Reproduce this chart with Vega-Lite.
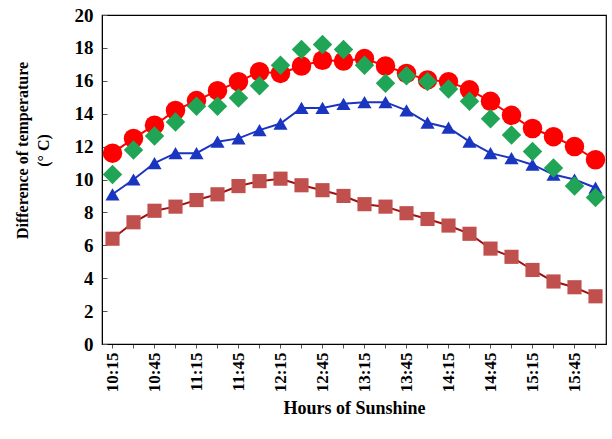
{
  "$schema": "https://vega.github.io/schema/vega-lite/v6.json",
  "width": 504,
  "height": 329,
  "autosize": {"type": "none"},
  "padding": {"left": 102, "top": 15, "right": 6, "bottom": 95},
  "background": "white",
  "config": {
    "font": "Liberation Serif",
    "view": {"stroke": "black", "strokeWidth": 1.2}
  },
  "data": {"values": [
      {"time": "10:15", "season": "Winter", "temp": 6.4},
      {"time": "10:30", "season": "Winter", "temp": 7.4},
      {"time": "10:45", "season": "Winter", "temp": 8.1},
      {"time": "11:00", "season": "Winter", "temp": 8.35},
      {"time": "11:15", "season": "Winter", "temp": 8.75},
      {"time": "11:30", "season": "Winter", "temp": 9.1},
      {"time": "11:45", "season": "Winter", "temp": 9.6},
      {"time": "12:00", "season": "Winter", "temp": 9.9},
      {"time": "12:15", "season": "Winter", "temp": 10.05},
      {"time": "12:30", "season": "Winter", "temp": 9.65},
      {"time": "12:45", "season": "Winter", "temp": 9.35},
      {"time": "13:00", "season": "Winter", "temp": 9.0},
      {"time": "13:15", "season": "Winter", "temp": 8.5},
      {"time": "13:30", "season": "Winter", "temp": 8.35},
      {"time": "13:45", "season": "Winter", "temp": 7.95},
      {"time": "14:00", "season": "Winter", "temp": 7.6},
      {"time": "14:15", "season": "Winter", "temp": 7.2},
      {"time": "14:30", "season": "Winter", "temp": 6.7},
      {"time": "14:45", "season": "Winter", "temp": 5.8},
      {"time": "15:00", "season": "Winter", "temp": 5.3},
      {"time": "15:15", "season": "Winter", "temp": 4.5},
      {"time": "15:30", "season": "Winter", "temp": 3.8},
      {"time": "15:45", "season": "Winter", "temp": 3.45},
      {"time": "16:00", "season": "Winter", "temp": 2.9},
      {"time": "10:15", "season": "Spring", "temp": 9.1},
      {"time": "10:30", "season": "Spring", "temp": 10.0},
      {"time": "10:45", "season": "Spring", "temp": 11.0},
      {"time": "11:00", "season": "Spring", "temp": 11.6},
      {"time": "11:15", "season": "Spring", "temp": 11.6},
      {"time": "11:30", "season": "Spring", "temp": 12.3},
      {"time": "11:45", "season": "Spring", "temp": 12.5},
      {"time": "12:00", "season": "Spring", "temp": 13.0},
      {"time": "12:15", "season": "Spring", "temp": 13.4},
      {"time": "12:30", "season": "Spring", "temp": 14.35},
      {"time": "12:45", "season": "Spring", "temp": 14.35},
      {"time": "13:00", "season": "Spring", "temp": 14.6},
      {"time": "13:15", "season": "Spring", "temp": 14.7},
      {"time": "13:30", "season": "Spring", "temp": 14.7},
      {"time": "13:45", "season": "Spring", "temp": 14.2},
      {"time": "14:00", "season": "Spring", "temp": 13.45},
      {"time": "14:15", "season": "Spring", "temp": 13.15},
      {"time": "14:30", "season": "Spring", "temp": 12.3},
      {"time": "14:45", "season": "Spring", "temp": 11.6},
      {"time": "15:00", "season": "Spring", "temp": 11.3},
      {"time": "15:15", "season": "Spring", "temp": 10.9},
      {"time": "15:30", "season": "Spring", "temp": 10.3},
      {"time": "15:45", "season": "Spring", "temp": 10.0},
      {"time": "16:00", "season": "Spring", "temp": 9.5},
      {"time": "10:15", "season": "Summer", "temp": 11.6},
      {"time": "10:30", "season": "Summer", "temp": 12.5},
      {"time": "10:45", "season": "Summer", "temp": 13.3},
      {"time": "11:00", "season": "Summer", "temp": 14.2},
      {"time": "11:15", "season": "Summer", "temp": 14.8},
      {"time": "11:30", "season": "Summer", "temp": 15.4},
      {"time": "11:45", "season": "Summer", "temp": 15.95},
      {"time": "12:00", "season": "Summer", "temp": 16.55},
      {"time": "12:15", "season": "Summer", "temp": 16.45},
      {"time": "12:30", "season": "Summer", "temp": 16.9},
      {"time": "12:45", "season": "Summer", "temp": 17.25},
      {"time": "13:00", "season": "Summer", "temp": 17.2},
      {"time": "13:15", "season": "Summer", "temp": 17.35},
      {"time": "13:30", "season": "Summer", "temp": 16.9},
      {"time": "13:45", "season": "Summer", "temp": 16.45},
      {"time": "14:00", "season": "Summer", "temp": 16.05},
      {"time": "14:15", "season": "Summer", "temp": 15.95},
      {"time": "14:30", "season": "Summer", "temp": 15.45},
      {"time": "14:45", "season": "Summer", "temp": 14.75},
      {"time": "15:00", "season": "Summer", "temp": 13.9},
      {"time": "15:15", "season": "Summer", "temp": 13.1},
      {"time": "15:30", "season": "Summer", "temp": 12.6},
      {"time": "15:45", "season": "Summer", "temp": 12.0},
      {"time": "16:00", "season": "Summer", "temp": 11.2},
      {"time": "10:15", "season": "Autumn", "temp": 10.3},
      {"time": "10:30", "season": "Autumn", "temp": 11.8},
      {"time": "10:45", "season": "Autumn", "temp": 12.65},
      {"time": "11:00", "season": "Autumn", "temp": 13.5},
      {"time": "11:15", "season": "Autumn", "temp": 14.45},
      {"time": "11:30", "season": "Autumn", "temp": 14.45},
      {"time": "11:45", "season": "Autumn", "temp": 14.95},
      {"time": "12:00", "season": "Autumn", "temp": 15.7},
      {"time": "12:15", "season": "Autumn", "temp": 16.95},
      {"time": "12:30", "season": "Autumn", "temp": 17.9},
      {"time": "12:45", "season": "Autumn", "temp": 18.2},
      {"time": "13:00", "season": "Autumn", "temp": 17.9},
      {"time": "13:15", "season": "Autumn", "temp": 16.95},
      {"time": "13:30", "season": "Autumn", "temp": 15.85},
      {"time": "13:45", "season": "Autumn", "temp": 16.3},
      {"time": "14:00", "season": "Autumn", "temp": 15.95},
      {"time": "14:15", "season": "Autumn", "temp": 15.5},
      {"time": "14:30", "season": "Autumn", "temp": 14.75},
      {"time": "14:45", "season": "Autumn", "temp": 13.7},
      {"time": "15:00", "season": "Autumn", "temp": 12.7},
      {"time": "15:15", "season": "Autumn", "temp": 11.7},
      {"time": "15:30", "season": "Autumn", "temp": 10.7},
      {"time": "15:45", "season": "Autumn", "temp": 9.6},
      {"time": "16:00", "season": "Autumn", "temp": 8.9}
  ]},
  "encoding": {
    "x": {
      "field": "time",
      "type": "ordinal",
      "sort": null,
      "scale": {"type": "band", "paddingInner": 0, "paddingOuter": 0},
      "axis": {
        "title": "Hours of Sunshine",
        "titleFont": "Liberation Serif",
        "titleFontSize": 18,
        "titleFontWeight": "bold",
        "titleColor": "black",
        "titlePadding": 8,
        "labelAngle": -90,
        "labelFont": "Liberation Serif",
        "labelFontSize": 17,
        "labelFontWeight": "bold",
        "labelColor": "black",
        "labelPadding": 4,
        "labelExpr": "(slice(datum.value, -2) == '15' || slice(datum.value, -2) == '45') ? datum.value : ''",
        "tickSize": 4,
        "tickColor": "#555555",
        "domainColor": "black",
        "grid": false
      }
    },
    "y": {
      "field": "temp",
      "type": "quantitative",
      "scale": {"domain": [0, 20], "nice": false},
      "axis": {
        "title": ["Difference of temperature", "(° C)"],
        "titleFont": "Liberation Serif",
        "titleFontSize": 16,
        "titleFontWeight": "bold",
        "titleColor": "black",
        "titleX": -72,
        "titleY": 135,
        "titleLineHeight": 21,
        "values": [0, 2, 4, 6, 8, 10, 12, 14, 16, 18, 20],
        "labelFont": "Liberation Serif",
        "labelFontSize": 19,
        "labelFontWeight": "bold",
        "labelColor": "black",
        "labelPadding": 14,
        "tickSize": -5,
        "tickColor": "#555555",
        "domainColor": "black",
        "grid": false
      }
    }
  },
  "layer": [
    {
      "mark": {"type": "line", "strokeWidth": 2},
      "encoding": {
        "detail": {"field": "season"},
        "stroke": {
          "field": "season",
          "scale": {"domain": ["Winter", "Spring", "Summer", "Autumn"], "range": ["#a01010", "#1a35c0", "#ff0000", "transparent"]},
          "legend": null
        }
      }
    },
    {
      "transform": [{"filter": "datum.season == 'Winter' || datum.season == 'Spring'"}],
      "mark": {"type": "point", "filled": true, "opacity": 1, "size": 200},
      "encoding": {
        "color": {
          "field": "season",
          "scale": {"domain": ["Winter", "Spring", "Summer", "Autumn"], "range": ["#c0504d", "#1a35c0", "#ff0000", "#20a556"]},
          "legend": {
            "orient": "none",
            "legendX": 75,
            "legendY": 250,
            "columns": 2,
            "title": null,
            "labelFont": "Liberation Serif",
            "labelFontSize": 16,
            "labelColor": "black",
            "symbolSize": 100,
            "labelOffset": 26,
            "columnPadding": 107,
            "rowPadding": 14
          }
        },
        "shape": {
          "field": "season",
          "scale": {"domain": ["Winter", "Spring", "Summer", "Autumn"], "range": ["square", "triangle-up", "circle", "diamond"]}
        }
      }
    },
    {
      "transform": [{"filter": "datum.season == 'Summer' || datum.season == 'Autumn'"}],
      "mark": {"type": "point", "filled": true, "opacity": 1, "size": 380},
      "encoding": {
        "color": {"field": "season"},
        "shape": {"field": "season"}
      }
    }
  ]
}
